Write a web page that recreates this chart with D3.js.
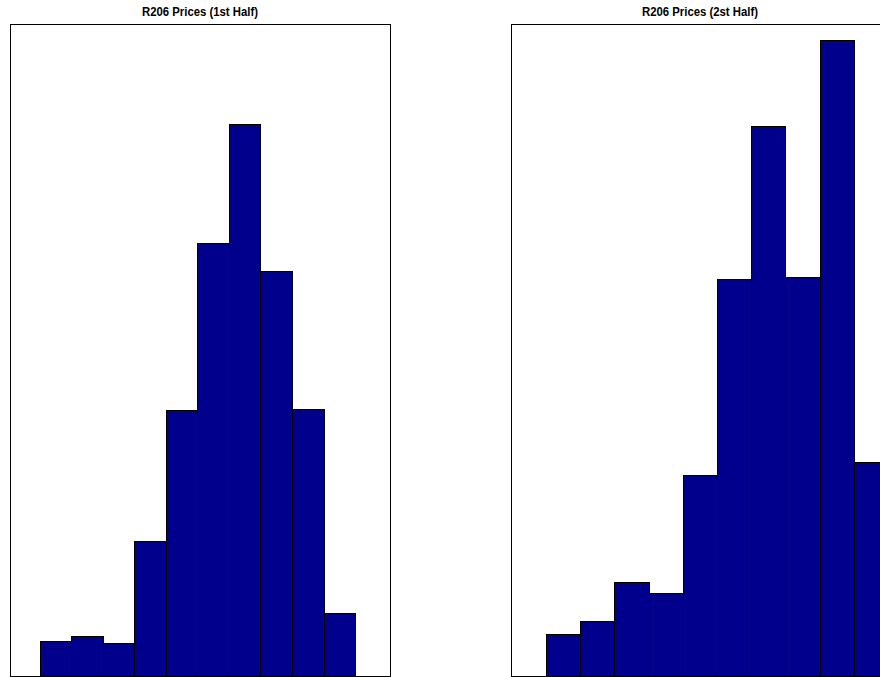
<!DOCTYPE html>
<html lang="en">
<head>
  <meta charset="UTF-8">
  <title>R206 Prices</title>
  <script src="https://d3js.org/d3.v7.min.js"></script>
  <style>
    body {
      margin: 0;
      padding: 0;
      background: #fff;
    }
    svg {
      display: block;
    }
    .title {
      font-family: "Liberation Sans", Arial, sans-serif;
      font-weight: bold;
      font-size: 12px;
      fill: #000;
    }
  </style>
</head>
<body>
  <svg width="880" height="677"></svg>

  <script>
    // frequenze (bin uguali, 10 classi per pannello)
    const titles = ["R206 Prices (1st Half)", "R206 Prices (2st Half)"];
    const bins1 = [1, 2, 3, 4, 5, 6, 7, 8, 9, 10];
    const counts1 = [8.8, 10, 8.3, 33.8, 66.5, 108.3, 138, 101.3, 66.8, 15.8];
    const bins2 = [1, 2, 3, 4, 5, 6, 7, 8, 9, 10];
    const counts2 = [10.5, 13.8, 23.5, 20.8, 50.3, 99.3, 137.5, 99.8, 159, 53.5];
    const yMax = 163;
    // estensione dell'asse x (in unità di classe) per lasciare il margine nel riquadro
    const xDomain1 = [-0.95, 11.11];
    const xDomain2 = [-1.02, 10.03];

    const svg = d3.select("svg");

    const panels = [
      {title: titles[0], bins: bins1, counts: counts1, xDomain: xDomain1, left: 10, right: 390},
      {title: titles[1], bins: bins2, counts: counts2, xDomain: xDomain2, left: 511, right: 889}
    ];
    const plotTop = 24, plotBottom = 676;

    panels.forEach(p => {
      const g = svg.append("g");

      const x = d3.scaleLinear().domain(p.xDomain).range([p.left, p.right]);
      const y = d3.scaleLinear().domain([0, yMax]).range([plotBottom, plotTop]);

      g.append("text")
        .attr("class", "title")
        .attr("x", (p.left + p.right) / 2)
        .attr("y", 16)
        .attr("text-anchor", "middle")
        .attr("textLength", 116)
        .attr("lengthAdjust", "spacingAndGlyphs")
        .text(p.title);

      g.selectAll("rect.bar")
        .data(p.bins.map((b, i) => ({b, c: p.counts[i]})))
        .enter()
        .append("rect")
        .attr("class", "bar")
        .attr("x", d => Math.round(x(d.b - 1)) + 0.5)
        .attr("width", d => Math.round(x(d.b)) - Math.round(x(d.b - 1)))
        .attr("y", d => Math.round(y(d.c)) + 0.5)
        .attr("height", d => Math.round(y(0)) - Math.round(y(d.c)))
        .attr("fill", "#00008c")
        .attr("stroke", "#000")
        .attr("stroke-width", 1);

      // riquadro del pannello
      g.append("rect")
        .attr("x", p.left + 0.5)
        .attr("y", plotTop + 0.5)
        .attr("width", p.right - p.left)
        .attr("height", plotBottom - plotTop)
        .attr("fill", "none")
        .attr("stroke", "#000")
        .attr("stroke-width", 1);
    });
  </script>
</body>
</html>
